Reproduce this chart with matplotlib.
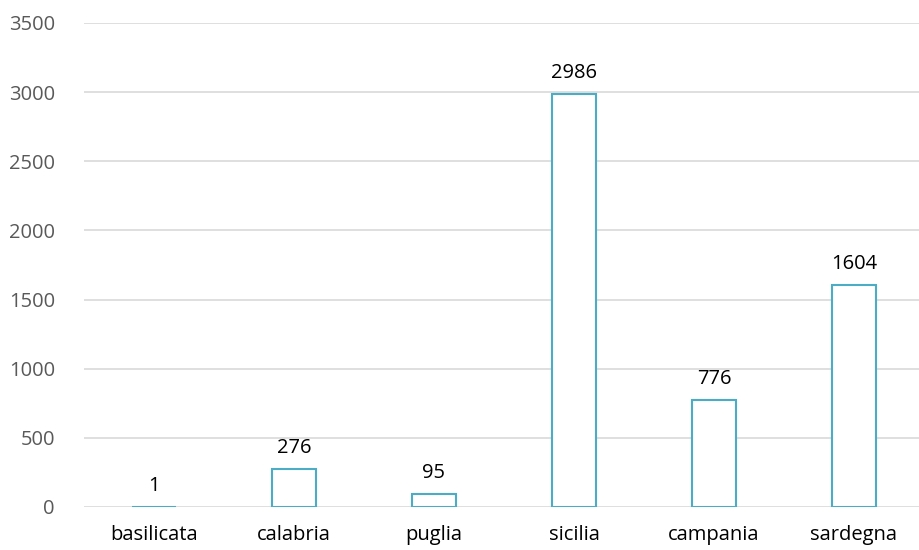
import matplotlib.pyplot as plt

regions = ['basilicata', 'calabria', 'puglia', 'sicilia', 'campania', 'sardegna']
counts = [1, 276, 95, 2986, 776, 1604]

plt.rcParams['font.family'] = ['Open Sans', 'DejaVu Sans']

fig = plt.figure(figsize=(9.19, 5.5), dpi=100)
ax = fig.add_axes([84/919, 1 - 507/550, 840/919, 484/550])

x = range(len(regions))
bars = ax.bar(x, counts, width=0.32, facecolor='white', edgecolor='#4BACC6', linewidth=1.5, zorder=3)
for i, v in enumerate(counts):
    ax.text(i, v + 80, str(v), ha='center', va='bottom', fontsize=14.5, color='black')

ax.set_xlim(-0.5, len(regions) - 0.5)
ax.set_ylim(0, 3500)
ax.set_yticks(range(0, 3501, 500))
ax.set_xticks(list(x))
ax.set_xticklabels(regions)
ax.grid(axis='y', color='#D9D9D9', linewidth=1.2, zorder=0)
for s in ax.spines.values():
    s.set_visible(False)
ax.tick_params(axis='both', length=0, labelsize=14.5, colors='#595959')
ax.tick_params(axis='x', colors='black', pad=13)
ax.tick_params(axis='y', pad=21)

fig.savefig('out.png', dpi=100)
